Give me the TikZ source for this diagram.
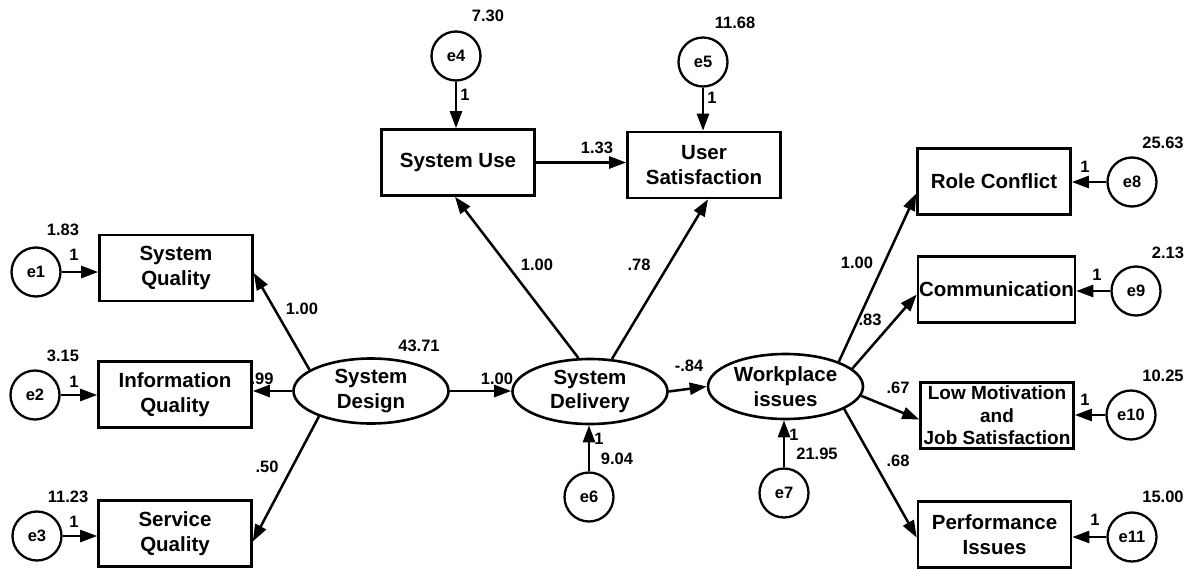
\documentclass[tikz,border=0pt]{standalone}
\usepackage{fontspec}
\setmainfont{Liberation Sans}
\usetikzlibrary{arrows.meta,shapes.geometric}
\begin{document}
\begin{tikzpicture}[x=1pt,y=-1pt,
  obs/.style={draw, line width=2.6pt, rectangle, minimum width=153pt, minimum height=66pt,
    align=center, inner sep=1pt, font=\fontsize{20.5}{24.5}\selectfont\bfseries},
  lat/.style={draw, line width=2.6pt, ellipse, minimum width=155pt, minimum height=65pt,
    align=center, inner sep=0pt, font=\fontsize{20.5}{24.5}\selectfont\bfseries},
  err/.style={draw, line width=2.3pt, circle, minimum size=49pt, inner sep=0pt,
    font=\fontsize{16.5}{19}\selectfont\bfseries},
  num/.style={inner sep=0pt, font=\fontsize{16.5}{19}\selectfont\bfseries},
  link/.style={line width=2.5pt, -{Triangle[length=17pt,width=12pt]}}
]
\fill[white] (0,0) rectangle (1192,571);
\useasboundingbox (0,0) rectangle (1192,571);

% observed variables
\node[obs] (sq)   at (176,268)   {System\\Quality};
\node[obs] (iq)   at (175,394.5) {Information\\Quality};
\node[obs] (svq)  at (175,533.5) {Service\\Quality};
\node[obs] (su)   at (458,162.5) {System Use};
\node[obs] (us)   at (704,165)   {User\\Satisfaction};
\node[obs] (rc)   at (994,181.5) {Role Conflict};
\node[obs] (comm) at (996.5,289.5) {Communication};
\node[obs, font=\fontsize{19}{22.5}\selectfont\bfseries] (lm) at (997,415.5) {Low Motivation\\and\\Job Satisfaction};
\node[obs] (pi)   at (994.5,534.5) {Performance\\Issues};

% latent variables
\node[lat] (sd)   at (371,391)   {System\\Design};
\node[lat] (sdel) at (590,391.5) {System\\Delivery};
\node[lat] (wi)   at (785.5,386.5) {Workplace\\issues};

% error terms
\node[err] (e1)  at (36,272)   {e1};
\node[err] (e2)  at (35,395)   {e2};
\node[err] (e3)  at (37,536)   {e3};
\node[err] (e4)  at (456,56)   {e4};
\node[err] (e5)  at (703,62)   {e5};
\node[err] (e6)  at (589,497)  {e6};
\node[err] (e7)  at (784,493)  {e7};
\node[err] (e8)  at (1132,182) {e8};
\node[err] (e9)  at (1136,291) {e9};
\node[err] (e10) at (1131,415) {e10};
\node[err] (e11) at (1132,537) {e11};

% structural and measurement paths
\draw[link] (sd.161) -- ([yshift=-5pt]sq.east);
\draw[link] (sd.west) -- (sd.west -| iq.east);
\draw[link] (sd.206) -- ([yshift=-8pt]svq.east);
\draw[link] (sd.east) -- (sd.east -| sdel.west);
\draw[link] (sdel.109) -- ([xshift=-3pt]su.south);
\draw[link] (sdel.56) -- ([xshift=4pt]us.south);
\draw[link] (su.east) -- (su.east -| us.west);
\draw[link] (sdel.east) -- (wi.west);
\draw[link] (wi.25)  -- ([yshift=-12pt]rc.west);
\draw[link] (wi.15)  -- ([yshift=-5pt]comm.west);
\draw[link] (wi.-7)  -- ([yshift=-4pt]lm.west);
\draw[link] (wi.-21) -- ([yshift=-3pt]pi.west);

% error paths
\draw[link] (e1.east) -- (e1.east -| sq.west);
\draw[link] (e2.east) -- (e2.east -| iq.west);
\draw[link] (e3.east) -- (e3.east -| svq.west);
\draw[link] (e4.south) -- (e4.south |- su.north);
\draw[link] (e5.south) -- (e5.south |- us.north);
\draw[link] (e6.north) -- (e6.north |- sdel.south);
\draw[link] (e7.north) -- (e7.north |- wi.south);
\draw[link] (e8.west) -- (e8.west -| rc.east);
\draw[link] (e9.west) -- (e9.west -| comm.east);
\draw[link] (e10.west) -- (e10.west -| lm.east);
\draw[link] (e11.west) -- (e11.west -| pi.east);

% estimates
\node[num] (v1)  at (63,230)   {1.83};
\node[num] (v2)  at (63,356)   {3.15};
\node[num] (v3)  at (68,497)   {11.23};
\node[num] (w1)  at (74,255)   {1};
\node[num] (w2)  at (74,382)   {1};
\node[num] (w3)  at (74,522)   {1};
\node[num] (b1)  at (302,309)  {1.00};
\node[num] (b2)  at (262,379)  {.99};
\node[num] (b3)  at (267,467)  {.50};
\node[num] (v4)  at (419,346)  {43.71};
\node[num] (v5)  at (488,16)   {7.30};
\node[num] (v6)  at (735,23)   {11.68};
\node[num] (w4)  at (465,95)   {1};
\node[num] (w5)  at (712,98)   {1};
\node[num] (b4)  at (597,148)  {1.33};
\node[num] (b5)  at (537,265)  {1.00};
\node[num] (b6)  at (639,265)  {.78};
\node[num] (b7)  at (497,379)  {1.00};
\node[num] (b8)  at (689,366)  {-.84};
\node[num] (w6)  at (599,439)  {1};
\node[num] (v7)  at (617,459)  {9.04};
\node[num] (w7)  at (794,435)  {1};
\node[num] (v8)  at (817,454)  {21.95};
\node[num] (v9)  at (1163,143) {25.63};
\node[num] (v10) at (1168,253) {2.13};
\node[num] (v11) at (1163,376) {10.25};
\node[num] (v12) at (1163,497) {15.00};
\node[num] (w8)  at (1085,167) {1};
\node[num] (w9)  at (1097,275) {1};
\node[num] (w10) at (1085,400) {1};
\node[num] (w11) at (1095,520) {1};
\node[num] (b9)  at (857,263)  {1.00};
\node[num] (b10) at (870,320)  {.83};
\node[num] (b11) at (898,388)  {.67};
\node[num] (b12) at (898,461)  {.68};
\end{tikzpicture}
\end{document}
